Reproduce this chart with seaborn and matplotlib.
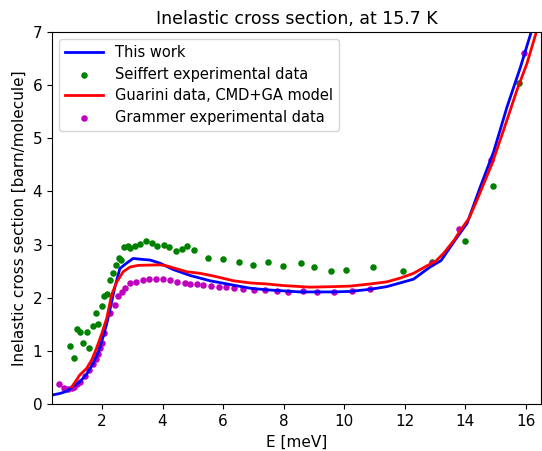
import numpy as np
import pandas as pd
import matplotlib
matplotlib.use("Agg")
import matplotlib.pyplot as plt
import seaborn as sns

# "This work" model curve
work_e = [0.35, 0.61, 0.83, 1.05, 1.27, 1.49, 1.71, 1.88, 2.04, 2.16, 2.26, 2.43, 2.59,
          2.81, 3.03, 3.37, 3.59, 3.92, 4.36, 4.91, 5.57, 6.23, 6.89, 7.44, 8.55, 9.65,
          10.2, 10.86, 11.41, 11.85, 12.29, 12.84, 13.2, 13.67, 14.06, 14.5, 14.94,
          15.38, 15.83, 16.2, 16.5]
work_s = [0.17, 0.20, 0.24, 0.33, 0.42, 0.56, 0.77, 0.98, 1.27, 1.52, 1.77, 2.21, 2.55,
          2.65, 2.74, 2.72, 2.71, 2.65, 2.53, 2.42, 2.32, 2.25, 2.18, 2.15, 2.11, 2.11,
          2.12, 2.16, 2.21, 2.28, 2.35, 2.58, 2.70, 3.09, 3.40, 4.09, 4.75, 5.59,
          6.35, 7.04, 7.6]

# Guarini data, CMD+GA model
guarini_e = [1.0, 1.27, 1.49, 1.66, 1.82, 1.99, 2.16, 2.32, 2.49, 2.70, 2.93, 3.20, 3.92,
             4.14, 4.80, 5.24, 5.68, 6.34, 6.89, 7.44, 7.99, 8.88, 9.65, 10.2, 10.86,
             11.41, 11.85, 12.29, 12.73, 13.01, 13.29, 13.64, 13.84, 14.12, 14.39, 14.89,
             15.27, 15.71, 16.04, 16.37, 16.5]
guarini_s = [0.32, 0.55, 0.67, 0.83, 1.05, 1.32, 1.62, 2.06, 2.30, 2.49, 2.58, 2.61, 2.62,
             2.60, 2.49, 2.46, 2.41, 2.32, 2.28, 2.26, 2.23, 2.20, 2.21, 2.22, 2.26,
             2.30, 2.37, 2.46, 2.60, 2.68, 2.84, 3.09, 3.27, 3.49, 3.84, 4.53,
             5.16, 5.91, 6.41, 7.04, 7.25]

# Seiffert experimental data
seiffert_e = [0.96, 1.07, 1.18, 1.29, 1.38, 1.49, 1.58, 1.69, 1.79, 1.88, 1.99, 2.08, 2.18,
              2.28, 2.36, 2.45, 2.55, 2.64, 2.74, 2.86, 2.92, 3.08, 3.27, 3.45, 3.64,
              3.83, 4.04, 4.23, 4.45, 4.65, 4.82, 5.04, 5.51, 6.01, 6.53, 6.98, 7.50,
              7.99, 8.58, 8.99, 9.57, 10.06, 10.94, 11.93, 12.9, 13.99, 14.92, 15.79]
seiffert_s = [1.09, 0.86, 1.41, 1.35, 1.15, 1.35, 1.05, 1.47, 1.72, 1.50, 1.85, 2.03, 2.08,
              2.33, 2.47, 2.62, 2.74, 2.72, 2.95, 2.98, 2.93, 2.97, 3.02, 3.07, 3.03,
              2.97, 3.00, 2.95, 2.88, 2.92, 2.97, 2.90, 2.75, 2.73, 2.68, 2.62, 2.67,
              2.60, 2.66, 2.57, 2.51, 2.52, 2.58, 2.51, 2.67, 3.07, 4.11, 6.05]

# Grammer experimental data
grammer_e = [0.58, 0.74, 0.89, 1.0, 1.07, 1.16, 1.27, 1.44, 1.58, 1.69, 1.80, 1.88, 1.93,
             2.01, 2.07, 2.26, 2.42, 2.54, 2.66, 2.77, 2.93, 3.12, 3.34, 3.56, 3.79,
             4.0, 4.25, 4.49, 4.74, 4.91, 5.13, 5.35, 5.59, 5.85, 6.10, 6.36, 6.67,
             7.03, 7.39, 7.77, 8.16, 8.63, 9.10, 9.65, 10.25, 10.86, 12.9, 13.8,
             14.86, 15.95]
grammer_s = [0.37, 0.31, 0.28, 0.30, 0.33, 0.37, 0.42, 0.53, 0.64, 0.75, 0.84, 0.95, 1.05,
             1.15, 1.34, 1.72, 1.87, 2.03, 2.11, 2.18, 2.27, 2.30, 2.33, 2.35, 2.35,
             2.35, 2.33, 2.30, 2.28, 2.26, 2.26, 2.25, 2.22, 2.21, 2.20, 2.19, 2.16,
             2.15, 2.15, 2.13, 2.11, 2.12, 2.11, 2.11, 2.13, 2.16, 2.65, 3.30,
             4.60, 6.60]

work = pd.DataFrame({"E": work_e, "sigma": work_s})
guarini = pd.DataFrame({"E": guarini_e, "sigma": guarini_s})
seiffert = pd.DataFrame({"E": seiffert_e, "sigma": seiffert_s})
grammer = pd.DataFrame({"E": grammer_e, "sigma": grammer_s})

fig = plt.figure(figsize=(5.42, 4.51), dpi=100)
ax = fig.add_axes([0.096, 0.104, 0.902, 0.825])

sns.lineplot(data=work, x="E", y="sigma", ax=ax, color="b", linewidth=2,
             sort=False, estimator=None, label="This work")
sns.scatterplot(data=seiffert, x="E", y="sigma", ax=ax, color="g", s=22,
                linewidth=0, label="Seiffert experimental data")
sns.lineplot(data=guarini, x="E", y="sigma", ax=ax, color="r", linewidth=2,
             sort=False, estimator=None, label="Guarini data, CMD+GA model")
sns.scatterplot(data=grammer, x="E", y="sigma", ax=ax, color="m", s=22,
                linewidth=0, label="Grammer experimental data")

ax.set_xlim(0.35, 16.5)
ax.set_ylim(0, 7)
ax.set_xticks([2, 4, 6, 8, 10, 12, 14, 16])
ax.tick_params(labelsize=11)
ax.set_xlabel("E [meV]", fontsize=11)
ax.set_ylabel("Inelastic cross section [barn/molecule]", fontsize=11)
ax.set_title("Inelastic cross section, at 15.7 K", fontsize=12.5)
ax.legend(loc="upper left", fontsize=10.5, handlelength=2.6, labelspacing=0.45)

fig.savefig("out.png", dpi=100)
